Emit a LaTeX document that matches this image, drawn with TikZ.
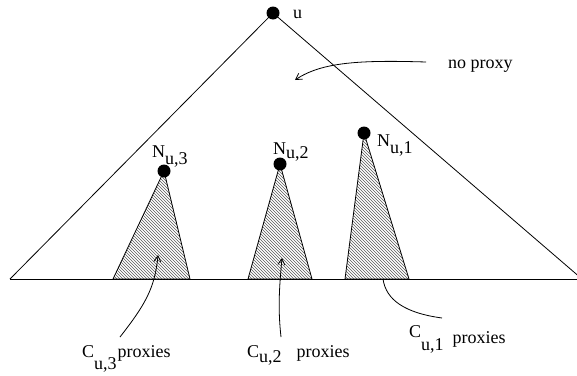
\documentclass[tikz,border=0pt]{standalone}
\usepackage{fontspec}
\setmainfont{Liberation Serif}
\usepackage{tikz}
\usetikzlibrary{arrows.meta, patterns}

\begin{document}
\begin{tikzpicture}[x=1pt, y=-1pt,
    dot/.style={circle, fill=black, inner sep=0pt, minimum size=13pt},
    lbl/.style={inner sep=0pt, anchor=base west, font=\fontsize{18}{21}\selectfont},
    edge/.style={line width=0.8pt},
    hatch/.style={edge, pattern=north west lines, pattern color=black!65},
    tip/.style={-{Straight Barb[length=6pt, width=7pt]}}]
    \useasboundingbox (0,0) rectangle (577,375);
    \clip (0,0) rectangle (577,375);

    % Whole tree
    \coordinate (bl) at (10,279);
    \coordinate (br) at (582,279);
    \node[dot] (u) at (273,13) {};
    \draw[edge] (bl) -- (u.center) -- (br);
    \draw[edge] (bl) -- (br);
    \node[lbl] (ulbl) at (293,18) {u};

    % Subtrees (hatched)
    \coordinate (a3) at (164,171);
    \coordinate (a2) at (280,164);
    \coordinate (a1) at (364,133);
    \draw[hatch] (a3) -- (113,279) -- (190,279) -- cycle;
    \draw[hatch] (a2) -- (248,279) -- (312,279) -- cycle;
    \draw[hatch] (a1) -- (345,279) -- (409,279) -- cycle;
    \node[dot] (n3) at (a3) {};
    \node[dot] (n2) at (a2) {};
    \node[dot] (n1) at (a1) {};
    \node[lbl] (n3lbl) at (152,157) {N\raisebox{-7pt}{u,3}};
    \node[lbl] (n2lbl) at (273,154) {N\raisebox{-4pt}{u,2}};
    \node[lbl] (n1lbl) at (377,146) {N\raisebox{-7pt}{u,1}};

    % No proxy
    \node[lbl] (nplbl) at (448,68) {no proxy};
    \coordinate (npfrom) at (426,62);
    \coordinate (npto) at (295,80);
    \draw[edge, tip] (npfrom) .. controls (360,60) and (322,62) .. (npto);

    % Proxies
    \node[lbl] (c3lbl) at (82,357) {C\raisebox{-12pt}{u,3}\hspace{1pt}proxies};
    \node[lbl] (c2lbl) at (247,357) {C\raisebox{-5pt}{u,2}\hspace{15pt}proxies};
    \node[lbl] (c1lbl) at (409,337) {C\raisebox{-13pt}{u,1}\hspace{9pt}\raisebox{-6pt}{proxies}};
    \coordinate (c3from) at (120,337);
    \coordinate (c3to) at (158,255);
    \coordinate (c2from) at (281,337);
    \coordinate (c2to) at (282,258);
    \coordinate (c1from) at (442,318);
    \coordinate (c1to) at (383,279);
    \draw[edge, tip] (c3from) .. controls (145,305) and (155,288) .. (c3to);
    \draw[edge, tip] (c2from) .. controls (278,310) and (279,290) .. (c2to);
    \draw[edge] (c1from) .. controls (405,313) and (386,300) .. (c1to);
\end{tikzpicture}
\end{document}
